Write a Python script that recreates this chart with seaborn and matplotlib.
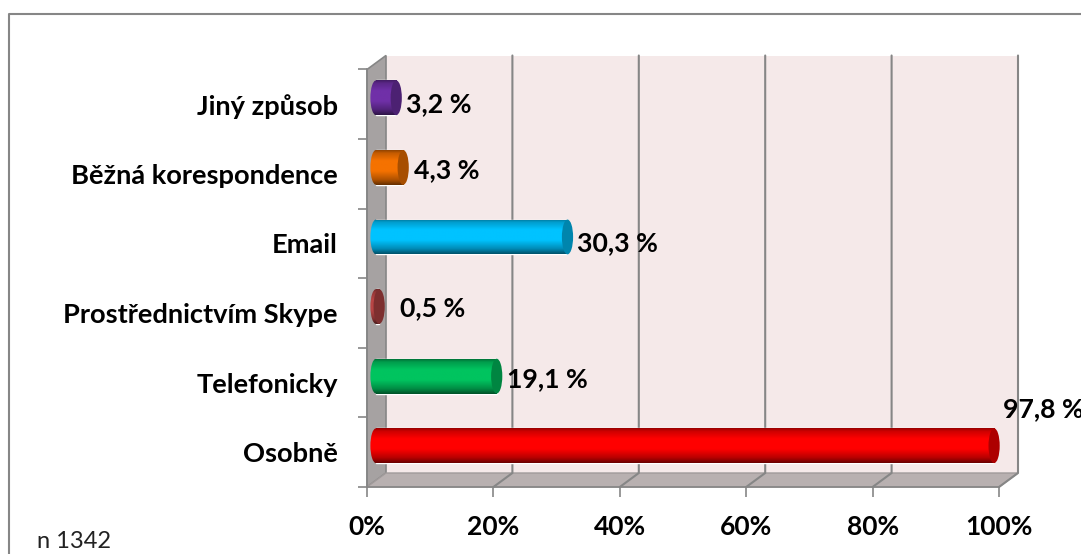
import numpy as np
import pandas as pd
import seaborn as sns
import matplotlib
matplotlib.use("Agg")
import matplotlib.pyplot as plt
from matplotlib.colors import to_rgb
from matplotlib.lines import Line2D
from matplotlib.patches import Ellipse, Polygon, Rectangle
from matplotlib.ticker import FixedLocator, FuncFormatter
from matplotlib.transforms import Affine2D

categories = ["Jiný způsob", "Běžná korespondence", "Email", "Prostřednictvím Skype", "Telefonicky", "Osobně"]
values = [3.2, 4.3, 30.3, 0.5, 19.1, 97.8]
value_labels = ["3,2 %", "4,3 %", "30,3 %", "0,5 %", "19,1 %", "97,8 %"]
bar_colors = ["#7030a8", "#f57200", "#00c3ff", "#b84545", "#00c45f", "#ff0000"]
x_ticks = [0, 20, 40, 60, 80, 100]
note = "n 1342"

W, H = 1081, 554
sns.set_theme(style="white")
plt.rcParams["font.family"] = ["Lato", "DejaVu Sans"]
fig = plt.figure(figsize=(W / 100, H / 100), dpi=100, facecolor="white")
L, R, T, B = 367, 999, 69.5, 487
ax = fig.add_axes([L / W, 1 - B / H, (R - L) / W, (B - T) / H])
ax.patch.set_alpha(0)

df = pd.DataFrame({"cat": categories, "val": values})
sns.barplot(data=df, x="val", y="cat", hue="cat", palette=bar_colors, legend=False,
            width=0.5, orient="h", ax=ax, order=categories, saturation=1)
bars = list(ax.patches)
ax.set_xlim(0, 100)
ax.set_ylim(5.5, -0.5)
ax.set_xlabel("")
ax.set_ylabel("")

GRID = "#868686"
dx, dy = 19 / (R - L), 14 / (B - T)
ta = ax.transAxes
ax.add_patch(Polygon([(dx, dy), (1 + dx, dy), (1 + dx, 1 + dy), (dx, 1 + dy)], transform=ta,
                     fc="#f5e9e9", ec="none", zorder=0.5, clip_on=False))
ax.add_patch(Polygon([(0, 0), (dx, dy), (dx, 1 + dy), (0, 1)], transform=ta,
                     fc="#a6a2a2", ec=GRID, lw=1.2, zorder=0.6, clip_on=False))
ax.add_patch(Polygon([(0, 0), (1, 0), (1 + dx, dy), (dx, dy)], transform=ta,
                     fc="#b8b0b0", ec="#a09a9a", lw=1, zorder=0.6, clip_on=False))
for t in x_ticks[1:]:
    xf = t / 100
    ax.add_line(Line2D([xf, xf + dx, xf + dx], [0, dy, 1 + dy], transform=ta, color=GRID,
                       lw=1.5, zorder=0.8, clip_on=False))

# cylinder shading on top of the seaborn bars
px_off = Affine2D().translate(9, 6.5)
rx = 5.6 / ((R - L) / 100)
stops = np.array([0, .08, .3, .6, .85, 1])
gain = np.array([.6, .8, 1, 1, .72, .42])
for patch, col in zip(bars, bar_colors):
    patch.set_transform(ax.transData + px_off)
    patch.set_zorder(2)
    x1 = patch.get_width()
    y0, h = patch.get_y(), patch.get_height()
    rgb = np.array(to_rgb(col))
    ramp = np.interp(np.linspace(0, 1, 64), stops, gain)[:, None, None] * rgb[None, None, :]
    ramp = np.clip(ramp, 0, 1)
    tr = ax.transData + px_off
    for x_a, x_b, clip in [
        (-rx, 0, Ellipse((0, y0 + h / 2), 2 * rx, h, transform=tr)),
        (0, x1, Rectangle((0, y0), x1, h, transform=tr)),
    ]:
        im = ax.imshow(ramp, extent=(x_a, x_b, y0 + h, y0), aspect="auto", zorder=3,
                       interpolation="bilinear", transform=tr)
        im.set_clip_path(clip)
    ax.add_patch(Ellipse((x1, y0 + h / 2), 2 * rx, h, transform=tr, fc=rgb * 0.68,
                         ec="none", zorder=3.5, clip_on=False))
ax.set_xlim(0, 100)
ax.set_ylim(5.5, -0.5)

# value labels (pixel offsets from the value on the front plane)
label_dx = [19, 20, 19, 30, 19, 18]
label_dy = [0.5, 4, 0.5, 4.5, 3, 43.5]
for i, (v, s) in enumerate(zip(values, value_labels)):
    ax.annotate(s, (v, i), xytext=(label_dx[i] * 0.72, label_dy[i] * 0.72), textcoords="offset points",
                ha="left", va="center", fontsize=19.2, fontweight="bold", color="black",
                annotation_clip=False, zorder=6, clip_on=False)

ax.xaxis.set_major_locator(FixedLocator(x_ticks))
ax.xaxis.set_major_formatter(FuncFormatter(lambda v, p: f"{v:.0f}%"))
ax.yaxis.set_minor_locator(FixedLocator(np.arange(-0.5, 6, 1)))
ax.tick_params(axis="x", which="major", length=7, width=1.2, color=GRID, pad=13.5,
               labelsize=19, bottom=True)
ax.tick_params(axis="y", which="major", length=0, pad=21, labelsize=19.6)
ax.tick_params(axis="y", which="minor", length=6.5, width=1.2, color=GRID, left=True)
for lab in ax.get_xticklabels() + ax.get_yticklabels():
    lab.set_fontweight("bold")
    lab.set_color("black")
sns.despine(ax=ax, top=True, right=True)
for s in ("left", "bottom"):
    ax.spines[s].set_color(GRID)
    ax.spines[s].set_linewidth(1.2)
    ax.spines[s].set_zorder(1)

# chart-area frame
fig.add_artist(Line2D([8.5 / W, 8.5 / W, 1], [0, 1 - 13.5 / H, 1 - 13.5 / H], color=GRID, lw=1.5))
fig.text(37 / W, 1 - 541 / H, note, fontsize=17, va="center", ha="left", color="#222222")

fig.savefig("out.png", dpi=100)
